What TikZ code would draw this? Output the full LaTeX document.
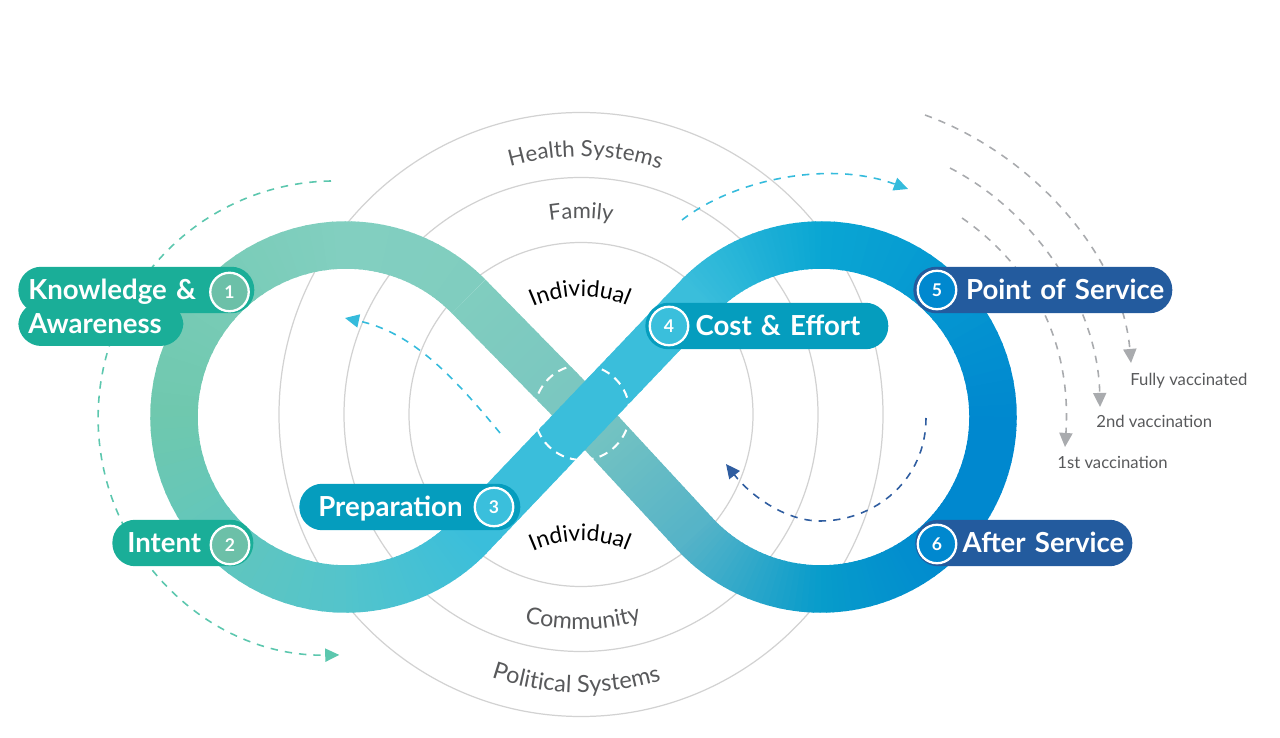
\documentclass[tikz,border=0pt]{standalone}
\usepackage{fontspec}
\setmainfont{Lato}
\newfontfamily\pillfamily[WordSpace=0.75]{Lato}
\usetikzlibrary{arrows.meta,calc,decorations.text}

\definecolor{ringgray}{HTML}{D2D2D2}
\definecolor{textgray}{HTML}{58595B}
\definecolor{arrowgray}{HTML}{A9ABAE}
\definecolor{pillgreen}{HTML}{1AAE98}
\definecolor{pillcyan}{HTML}{059DBE}
\definecolor{pillnavy}{HTML}{235B9E}
\definecolor{dotgreen}{HTML}{6CC0A8}
\definecolor{dotcyan}{HTML}{3ABFDC}
\definecolor{dotblue}{HTML}{0088CF}
\definecolor{dashgreen}{HTML}{5CC7AE}
\definecolor{dashcyan}{HTML}{35BBDC}
\definecolor{dashnavy}{HTML}{2F5DA0}
\definecolor{bandA}{HTML}{80CDBF}
\definecolor{bandB}{HTML}{82CFC0}
\definecolor{bandC}{HTML}{6FC8AE}
\definecolor{bandD}{HTML}{53C4CC}
\definecolor{bandE}{HTML}{3ABEDB}
\definecolor{bandF}{HTML}{0AA6D3}
\definecolor{bandG}{HTML}{55B3C8}
\definecolor{bandH}{HTML}{079CCB}
\definecolor{bandM}{HTML}{7AC6C0}

\tikzset{
  ring/.style={draw=ringgray,line width=0.7pt},
  band/.style={line width=0.95cm},
  dashline/.style={draw=#1,line width=0.9pt,dash pattern=on 4.2pt off 4pt,
    -{Triangle[length=8pt,width=7.5pt,fill=#1]}},
  pill/.style={fill=#1,rectangle,rounded corners=0.46cm,minimum height=0.93cm,
    inner ysep=0pt,anchor=west,text=white,
    font=\pillfamily\bfseries\fontsize{15.7}{16}\selectfont,
    text height=13.2pt,text depth=1.9pt},
  numdot/.style={circle,fill=#1,draw=white,line width=1.3pt,minimum size=0.77cm,
    inner sep=0pt,text=white,font=\bfseries\fontsize{10}{10}\selectfont},
  ringtext/.style n args={3}{decorate,decoration={text along path,text align=center,
    text color=#2,text={|\fontsize{#3}{#3}\selectfont|#1}}},
  vaxtext/.style={anchor=west,inner sep=0pt,text=textgray,font=\fontsize{9.5}{10}\selectfont}
}

\newcommand{\bandarc}[5]{%
  \foreach \i in {1,...,24}{
    \pgfmathsetmacro{\angs}{#2+(#3-#2)*(\i-1)/24}
    \pgfmathsetmacro{\ange}{#2+(#3-#2)*(\i+0.25)/24}
    \pgfmathsetmacro{\mixp}{(\i-0.5)*100/24}
    \draw[band,#5!\mixp!#4] (#1)++(\angs:172) arc[start angle=\angs,end angle=\ange,radius=172];
  }}
\newcommand{\bandline}[4]{%
  \foreach \i in {1,...,24}{
    \pgfmathsetmacro{\ts}{(\i-1)/24}
    \pgfmathsetmacro{\te}{(\i+0.25)/24}
    \pgfmathsetmacro{\mixp}{(\i-0.5)*100/24}
    \draw[band,#4!\mixp!#3] ($(#1)!\ts!(#2)$)--($(#1)!\te!(#2)$);
  }}

\begin{document}
\begin{tikzpicture}[x=0.02cm,y=0.02cm]
\useasboundingbox (0,0) rectangle (1280,737);

\coordinate (ringc) at (581,322.5);
\coordinate (ringb) at (581,78);
\coordinate (lc) at (346,320);
\coordinate (rc) at (821,320);

% rings
\foreach \r in {172,237,302}{\draw[ring] (ringc) circle[radius=\r];}

\path[ringtext={Health Systems}{textgray}{12.7}] (ringc)++(119:258) arc[start angle=119,end angle=59,radius=258];
\path[ringtext={Family}{textgray}{12.5}] (ringc)++(120:196) arc[start angle=120,end angle=60,radius=196];
\path[ringtext={Individual}{black}{13}] (ringc)++(145.5:118) arc[start angle=145.5,end angle=35.5,radius=118];
\path[ringtext={Individual}{black}{13}] (ringb)++(145.5:118) arc[start angle=145.5,end angle=35.5,radius=118];
\path[ringtext={Community}{textgray}{13.2}] (ringc)++(240.5:215) arc[start angle=240.5,end angle=300.5,radius=215];
\path[ringtext={Political Systems}{textgray}{13.4}] (ringc)++(239:278) arc[start angle=239,end angle=299,radius=278];

% dashed arrows
\coordinate (g1) at (331,556);
\draw[dashline=dashgreen] (g1) arc[start angle=91,end angle=271,radius=237];

\coordinate (c1) at (682,517);
\coordinate (c2) at (908,548);
\draw[dashline=dashcyan] (c1) .. controls (735,558) and (830,577) .. (c2);

\coordinate (c3) at (500,304);
\coordinate (c4) at (345,419);
\draw[dashline=dashcyan] (c3) .. controls (450,365) and (410,405) .. (c4);

\coordinate (n1) at (926,319);
\coordinate (n2) at (820,216);
\coordinate (n3) at (726,273);
\draw[dashline=dashnavy] (n1) .. controls (926,257) and (875,216) .. (n2) .. controls (785,216) and (750,242) .. (n3);

\coordinate (v1) at (925,622);
\coordinate (v2) at (1131,374);
\draw[dashline=arrowgray] (v1) .. controls (1035,582) and (1122,480) .. (v2);
\coordinate (v3) at (950,569);
\coordinate (v4) at (1100,330);
\draw[dashline=arrowgray] (v3) .. controls (1040,522) and (1098,427) .. (v4);
\coordinate (v5) at (962,519);
\coordinate (v6) at (1065,290);
\draw[dashline=arrowgray] (v5) .. controls (1030,472) and (1072,397) .. (v6);

% band
\coordinate (tl) at ($(lc)+(44.5:172)$);
\coordinate (bl) at ($(lc)+(-42.5:172)$);
\coordinate (tr) at ($(rc)+(135.4:172)$);
\coordinate (br) at ($(rc)+(-137.4:172)$);
\coordinate (mid) at (583,324);
\bandarc{lc}{44.5}{90}{bandA}{bandB}
\bandarc{lc}{90}{180}{bandB}{bandC}
\bandarc{lc}{180}{270}{bandC}{bandD}
\bandarc{lc}{270}{317.5}{bandD}{bandE}
\bandarc{rc}{135.4}{90}{bandE}{bandF}
\bandarc{rc}{90}{0}{bandF}{dotblue}
\bandarc{rc}{0}{-45}{dotblue}{dotblue}
\bandarc{rc}{-45}{-90}{dotblue}{bandH}
\bandarc{rc}{-90}{-137.4}{bandH}{bandG}
\bandline{tl}{mid}{bandA}{bandM}
\bandline{mid}{br}{bandM}{bandG}
\bandline{bl}{tr}{bandE}{bandE}

\draw[white,line width=1.15pt,dash pattern=on 5pt off 3.6pt] (582,324.5) circle[radius=47.5];

% labels
\node[pill=pillgreen,text width=2.9cm,inner xsep=0.2cm,align=left,minimum height=0.88cm] (aware) at (18,413) {Awareness};
\node[pill=pillgreen,text width=4.32cm,inner xsep=0.2cm,align=left] (know) at (18,447) {Knowledge \&};
\node[pill=pillgreen,text width=2.22cm,inner xsep=0.3cm,align=left] (intent) at (112,194) {Intent};
\node[pill=pillcyan,text width=3.66cm,inner xsep=0.38cm,align=left] (prep) at (299,230) {Preparation};
\node[pill=pillcyan,text width=3.74cm,inner xsep=0.56cm,align=right] (cost) at (645,411) {Cost \& Effort};
\node[pill=pillnavy,text width=4.86cm,inner xsep=0.16cm,align=right] (point) at (913,447) {Point of Service};
\node[pill=pillnavy,text width=4.02cm,inner xsep=0.16cm,align=right] (after) at (915,194) {After Service};

\node[numdot=dotgreen] (d1) at (229.5,445) {1};
\node[numdot=dotgreen] (d2) at (230,192) {2};
\node[numdot=dotcyan] (d3) at (494,230) {3};
\node[numdot=dotcyan] (d4) at (669,411) {4};
\node[numdot=dotblue] (d5) at (937,447) {5};
\node[numdot=dotblue] (d6) at (937,193) {6};

\node[vaxtext] (fully) at (1130,356) {Fully vaccinated};
\node[vaxtext] (second) at (1096,316) {2nd vaccination};
\node[vaxtext] (first) at (1057,275) {1st vaccination};
\end{tikzpicture}
\end{document}
